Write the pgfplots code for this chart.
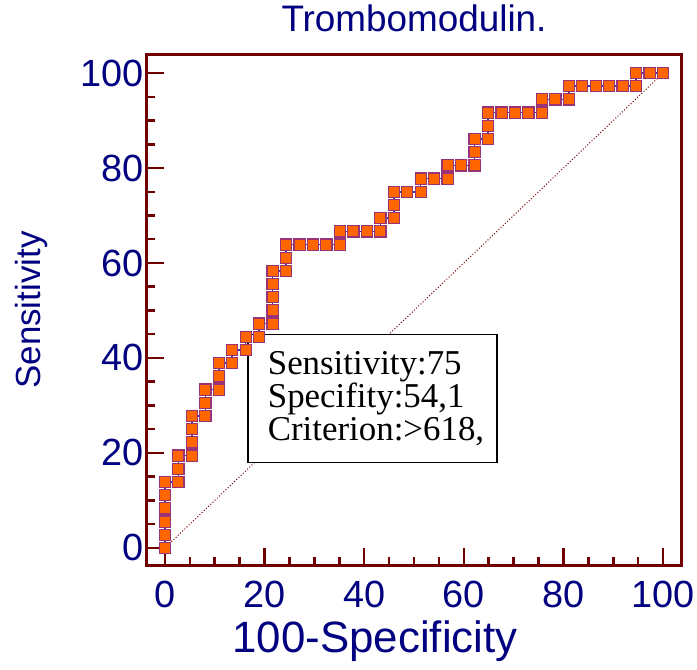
\documentclass[border=0pt]{standalone}
\usepackage{pgfplots}
\pgfplotsset{compat=1.18}
\usepackage{fontspec}
\setmainfont{Liberation Sans}
\newfontfamily\serifbox{Liberation Serif}
\definecolor{axred}{RGB}{112,0,0}
\definecolor{navytext}{RGB}{0,0,128}
\definecolor{mkfill}{RGB}{255,102,0}
\definecolor{mkdraw}{RGB}{153,51,120}
\definecolor{lnblue}{RGB}{70,50,150}
\begin{document}
\begin{tikzpicture}
\path[use as bounding box] (-147bp,-105bp) rectangle (550bp,565bp);
\begin{axis}[
  at={(0,0)}, anchor=south west,
  scale only axis, width=534bp, height=510bp,
  xmin=-3.6, xmax=103.6, ymin=-3.6, ymax=103.8,
  axis line style={axred, line width=3bp},
  xtick={0,20,...,100}, ytick={0,20,...,100},
  minor x tick num=3, minor y tick num=3,
  tick style={axred, line width=2.5bp},
  major tick length=17bp, minor tick length=8bp,
  tick align=inside,
  xtick pos=left, ytick pos=left,
  /pgf/number format/assume math mode=true,
  tick label style={font=\fontsize{38}{40}\selectfont, text=navytext},
  xticklabel style={yshift=-13bp},
  xlabel={100-Specificity}, ylabel={Sensitivity},
  xlabel style={font=\fontsize{44}{48}\selectfont, text=navytext,
    at={(axis description cs:0.427,-0.15)}, anchor=center},
  ylabel style={font=\fontsize{35}{38}\selectfont, text=navytext,
    at={(axis description cs:-0.217,0.5)}, anchor=center, rotate=0},
  title={Trombomodulin.},
  title style={font=\fontsize{37}{40}\selectfont, text=navytext,
    at={(axis description cs:0.5,1.06)}, anchor=center},
]
\addplot[axred, dotted, line width=1bp] coordinates {(0,0) (100,100)};
\addplot[lnblue, line width=1.5bp, mark=square*, mark size=5.6bp,
  mark options={fill=mkfill, draw=mkdraw, line width=1.2bp}] coordinates {
(0,0) (0,2.778) (0,5.556) (0,8.333) (0,11.111) (0,13.889)
(2.703,13.889) (2.703,16.667) (2.703,19.444)
(5.405,19.444) (5.405,22.222) (5.405,25) (5.405,27.778)
(8.108,27.778) (8.108,30.556) (8.108,33.333)
(10.811,33.333) (10.811,36.111) (10.811,38.889)
(13.514,38.889) (13.514,41.667)
(16.216,41.667) (16.216,44.444)
(18.919,44.444) (18.919,47.222)
(21.622,47.222) (21.622,50) (21.622,52.778) (21.622,55.556) (21.622,58.333)
(24.324,58.333) (24.324,61.111) (24.324,63.889)
(27.027,63.889) (29.730,63.889) (32.432,63.889) (35.135,63.889)
(35.135,66.667) (37.838,66.667) (40.541,66.667) (43.243,66.667)
(43.243,69.444) (45.946,69.444) (45.946,72.222) (45.946,75)
(48.649,75) (51.351,75) (51.351,77.778) (54.054,77.778) (56.757,77.778)
(56.757,80.556) (59.459,80.556) (62.162,80.556) (62.162,83.333) (62.162,86.111)
(64.865,86.111) (64.865,88.889) (64.865,91.667)
(67.568,91.667) (70.270,91.667) (72.973,91.667) (75.676,91.667)
(75.676,94.444) (78.378,94.444) (81.081,94.444) (81.081,97.222)
(83.784,97.222) (86.486,97.222) (89.189,97.222) (91.892,97.222) (94.595,97.222)
(94.595,100) (97.297,100) (100,100)
};
\node[draw=black, line width=1.5bp, fill=white, anchor=north west,
  text width=209bp, inner xsep=20bp, inner ysep=4bp, minimum height=128bp,
  align=left, font=\serifbox\fontsize{35}{33}\selectfont]
  at (axis cs:16.5,45.1) {Sensitivity:75\\Specifity:54,1\\Criterion:>618,};
\end{axis}
\end{tikzpicture}
\end{document}
